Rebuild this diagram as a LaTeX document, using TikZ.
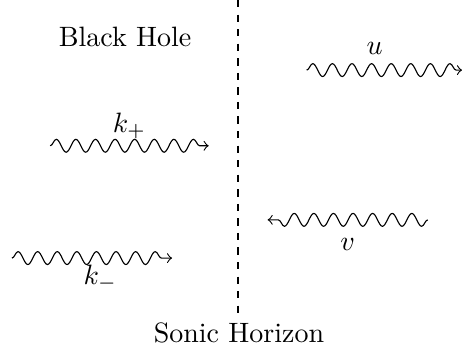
\documentclass[tikz,border=0pt]{standalone}
\usepackage{amsmath}
\usetikzlibrary{decorations.pathmorphing}
\tikzset{
  wave/.style={->,decorate,decoration={snake,amplitude=2.3pt,segment length=7pt,post length=1pt}},
  horizon/.style={semithick,dash pattern=on 2.6pt off 2.6pt}
}
\begin{document}
\begin{tikzpicture}
\useasboundingbox (0,0) rectangle (5.80,4.44);
% sonic horizon
\coordinate (htop) at (2.99,4.44);
\coordinate (hbot) at (2.99,0.49);
\draw[horizon] (htop) -- (hbot);
\node (hlabel) at (3.0,0.26) {Sonic Horizon};
\node (bhlabel) at (1.57,3.98) {Black Hole};
% modes inside
\coordinate (kpa) at (0.63,2.61);
\coordinate (kpb) at (2.62,2.61);
\draw[wave] (kpa) -- (kpb) node[midway,above=-1pt] (kplabel) {$k_+$};
\coordinate (kma) at (0.15,1.20);
\coordinate (kmb) at (2.16,1.20);
\draw[wave] (kma) -- (kmb) node[midway,below=-1pt,xshift=3pt] (kmlabel) {$k_-$};
% modes outside
\coordinate (ua) at (3.85,3.56);
\coordinate (ub) at (5.80,3.56);
\draw[wave] (ua) -- (ub) node[midway,above=2pt,xshift=-3.5pt] (ulabel) {$u$};
\coordinate (va) at (5.37,1.68);
\coordinate (vb) at (3.36,1.68);
\draw[wave] (va) -- (vb) node[midway,below=3pt] (vlabel) {$v$};
\end{tikzpicture}
\end{document}
